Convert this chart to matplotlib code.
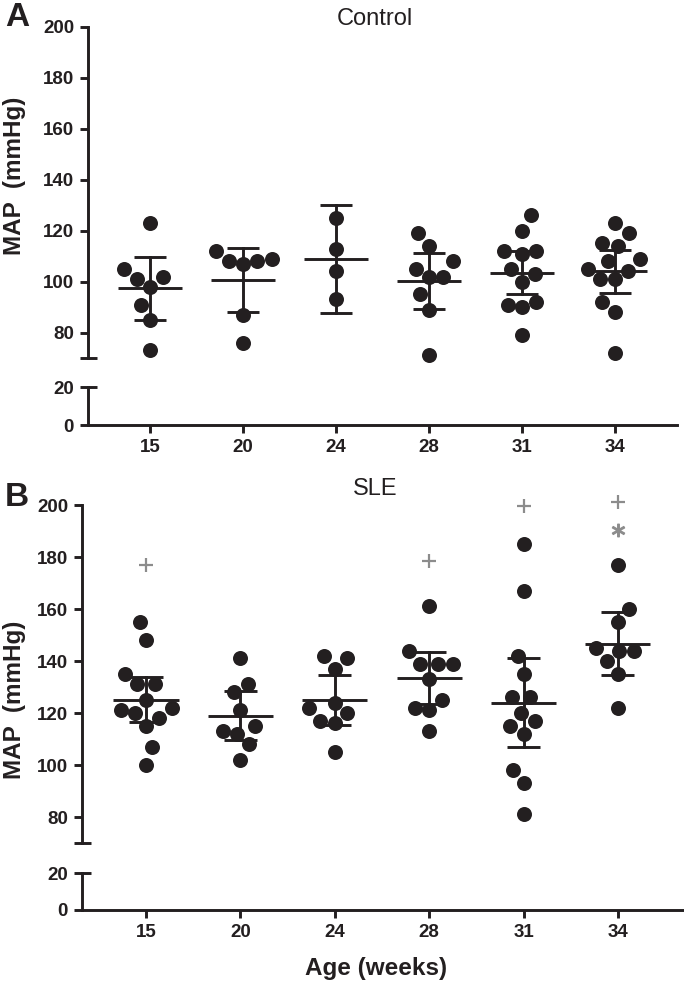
import numpy as np
import matplotlib.pyplot as plt

plt.rcParams['font.family'] = ['Liberation Sans', 'DejaVu Sans']

ages = ['15', '20', '24', '28', '31', '34']

# Control MAP (mmHg), one list per age
ctrl_15 = [123, 105, 102, 101, 98, 91, 85, 73]
ctrl_20 = [112, 109, 108, 108, 107, 87, 76]
ctrl_24 = [125, 113, 104, 93]
ctrl_28 = [119, 114, 108, 105, 102, 102, 95, 89, 71]
ctrl_31 = [126, 120, 112, 112, 111, 105, 103, 100, 92, 91, 90, 79]
ctrl_34 = [123, 119, 115, 114, 109, 108, 105, 104, 101, 101, 92, 88, 72]
ctrl_mean = [97.3, 100.8, 109.0, 100.4, 103.5, 104.0]
ctrl_hi = [109.5, 113.2, 130.2, 111.4, 112.2, 112.5]
ctrl_lo = [85.0, 88.2, 87.5, 89.4, 95.0, 95.6]

# SLE MAP (mmHg)
sle_15 = [155, 148, 135, 131, 131, 125, 122, 121, 120, 118, 115, 107, 100]
sle_20 = [141, 131, 128, 121, 115, 113, 112, 108, 102]
sle_24 = [142, 141, 137, 124, 122, 120, 117, 116, 105]
sle_28 = [161, 144, 139, 139, 139, 133, 125, 122, 121, 113]
sle_31 = [185, 167, 142, 135, 126, 126, 120, 117, 115, 112, 98, 93, 81]
sle_34 = [177, 160, 155, 145, 144, 144, 140, 135, 122]
sle_mean = [125.0, 118.8, 124.9, 133.5, 124.0, 146.7]
sle_hi = [133.9, 128.5, 134.5, 143.3, 141.2, 158.7]
sle_lo = [116.6, 109.8, 115.3, 123.3, 107.0, 134.5]

# significance marks in SLE panel (age index, y)
plus_idx = [0, 3, 4, 5]
plus_y = [177, 178.5, 199.5, 201]
star_idx = [5]
star_y = [190.5]

ctrl_groups = [ctrl_15, ctrl_20, ctrl_24, ctrl_28, ctrl_31, ctrl_34]
sle_groups = [sle_15, sle_20, sle_24, sle_28, sle_31, sle_34]

W, H = 684, 984
INK = '#231f20'
GREY = '#8c8c8c'
LW = 2.1


def swarm(vals, px_x, px_y, dx=14.5, dy=20.0):
    # simple beeswarm: offsets in category units
    order = np.argsort(vals)
    placed = []
    out = np.zeros(len(vals))
    for i in order:
        y = vals[i] * px_y
        cands = [0.0]
        for (xj, yj) in placed:
            d = abs(y - yj)
            if d < dy:
                s = dx * np.sqrt(1 - (d / dy) ** 2)
                cands += [xj + s, xj - s]
        best = 0.0
        for c in sorted(cands, key=lambda c: (round(abs(c), 3), -c if len(placed) % 2 else c)):
            ok = True
            for (xj, yj) in placed:
                if ((c - xj) / dx) ** 2 + ((y - yj) / dy) ** 2 < 0.999:
                    ok = False
                    break
            if ok:
                best = c
                break
        placed.append((best, y))
        out[i] = best / px_x
    return out


def panel(x0, x1, top, brk, lo_top, bottom, xlim, groups, mean, hi, lo):
    l = x0 / W
    w = (x1 - x0) / W
    ax_hi = fig.add_axes([l, 1 - brk / H, w, (brk - top) / H])
    ax_lo = fig.add_axes([l, 1 - bottom / H, w, (bottom - lo_top) / H])
    px_x = (x1 - x0) / (xlim[1] - xlim[0])
    px_y = (brk - top) / 130.0
    ax_hi.set_ylim(70, 200)
    ax_hi.set_yticks(np.arange(80, 201, 20))
    ax_hi.set_xticks([])
    ax_lo.set_ylim(0, 20)
    ax_lo.set_yticks([0, 20])
    ax_lo.set_xticks(range(len(ages)))
    ax_lo.set_xticklabels(ages)
    for ax in (ax_hi, ax_lo):
        ax.set_xlim(*xlim)
        for s in ['top', 'right']:
            ax.spines[s].set_visible(False)
        for s in ['left', 'bottom']:
            ax.spines[s].set_linewidth(LW)
            ax.spines[s].set_color(INK)
        ax.tick_params(axis='both', length=6, width=LW, color=INK,
                       labelsize=13.5, pad=4, labelcolor=INK)
        for t in ax.get_yticklabels() + ax.get_xticklabels():
            t.set_fontweight('bold')
    ax_hi.spines['bottom'].set_visible(False)

    # break marks
    e = 9.0 / (x1 - x0)
    ax_hi.plot([-e * 0.9, e], [70, 70], transform=ax_hi.get_yaxis_transform(),
               color=INK, lw=LW, clip_on=False, solid_capstyle='butt')
    ax_lo.plot([0, e], [20, 20], transform=ax_lo.get_yaxis_transform(),
               color=INK, lw=LW, clip_on=False, solid_capstyle='butt')

    for i, g in enumerate(groups):
        off = swarm(np.array(g, float), px_x, px_y)
        ax_hi.plot(i + off, g, 'o', ms=10.8, color=INK, mec='none', clip_on=False, zorder=3)
        ax_hi.plot([i - 0.345, i + 0.345], [mean[i], mean[i]], color=INK, lw=LW, zorder=4,
                   solid_capstyle='butt')
        ax_hi.plot([i, i], [lo[i], hi[i]], color=INK, lw=LW, zorder=4)
        for v in (lo[i], hi[i]):
            ax_hi.plot([i - 0.175, i + 0.175], [v, v], color=INK, lw=LW, zorder=4,
                       solid_capstyle='butt')
    return ax_hi, ax_lo


fig = plt.figure(figsize=(W / 100, H / 100), dpi=100)

axA, _ = panel(88, 677, 27, 358, 387, 425, (-0.667, 5.667),
               ctrl_groups, ctrl_mean, ctrl_hi, ctrl_lo)
axB, _ = panel(82, 684, 505, 843, 873, 910, (-0.678, 5.70),
               sle_groups, sle_mean, sle_hi, sle_lo)

axB.plot(plus_idx, plus_y, '+', ms=10, mew=1.6, color=GREY, clip_on=False, zorder=5)
axB.plot(star_idx, star_y, marker='$*$', ls='none', ms=9, color=GREY, clip_on=False, zorder=5)

fig.text(17 / W, 1 - 18 / H, 'A', fontsize=24, fontweight='bold', ha='center', va='center', color=INK)
fig.text(17 / W, 1 - 497 / H, 'B', fontsize=24, fontweight='bold', ha='center', va='center', color=INK)
fig.text(375 / W, 1 - 19 / H, 'Control', fontsize=17, ha='center', va='center', color=INK)
fig.text(375 / W, 1 - 489 / H, 'SLE', fontsize=17, ha='center', va='center', color=INK)
fig.text(15 / W, 1 - 176 / H, 'MAP  (mmHg)', fontsize=17.5, fontweight='bold', rotation=90,
         ha='center', va='center', color=INK)
fig.text(15 / W, 1 - 700 / H, 'MAP  (mmHg)', fontsize=17.5, fontweight='bold', rotation=90,
         ha='center', va='center', color=INK)
fig.text(376 / W, 1 - 968 / H, 'Age (weeks)', fontsize=17.5, fontweight='bold',
         ha='center', va='center', color=INK)

fig.savefig('out.png', dpi=100)
plt.close(fig)
